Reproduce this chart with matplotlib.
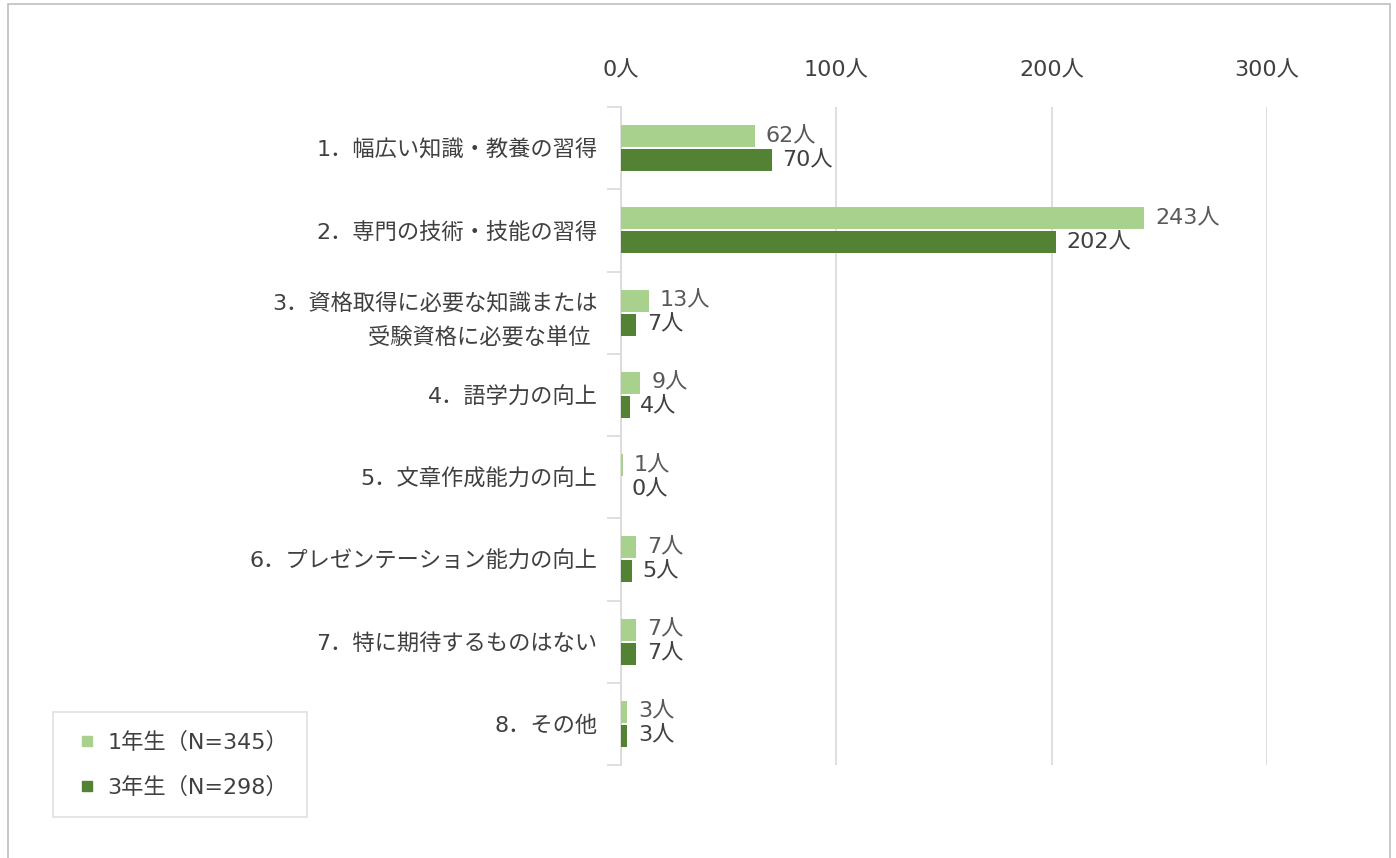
import numpy as np
import matplotlib
matplotlib.use("Agg")
import matplotlib.pyplot as plt
from matplotlib.patches import Rectangle
from matplotlib.lines import Line2D

plt.rcParams['font.family'] = ['DejaVu Sans', 'Noto Sans CJK JP']

categories = [
    "1．幅広い知識・教養の習得",
    "2．専門の技術・技能の習得",
    "3．資格取得に必要な知識または\n受験資格に必要な単位 ",
    "4．語学力の向上",
    "5．文章作成能力の向上",
    "6．プレゼンテーション能力の向上",
    "7．特に期待するものはない",
    "8．その他",
]
year1 = [62, 243, 13, 9, 1, 7, 7, 3]
year3 = [70, 202, 7, 4, 0, 5, 7, 3]
legend_labels = ["1年生（N=345）", "3年生（N=298）"]
xticks = [0, 100, 200, 300]

c_light = "#A9D18E"
c_dark = "#548235"
txt = "#404040"
fs = 16

fig = plt.figure(figsize=(13.96, 8.58), dpi=100)
fig.patches.append(Rectangle((8 / 1396, -0.01), (1390 - 8) / 1396, 1 - 4 / 858 + 0.01,
                             transform=fig.transFigure, fill=False,
                             edgecolor="#BFBFBF", linewidth=1.2))

ax = fig.add_axes([621 / 1396, 1 - 765 / 858, (1267 - 621) / 1396, (765 - 107) / 858])

y = np.arange(len(categories))
h = 0.27
off = 0.146
ax.barh(y - off, year1, height=h, color=c_light, zorder=3)
ax.barh(y + off, year3, height=h, color=c_dark, zorder=3)

for i in range(len(categories)):
    ax.text(year1[i] + 5, y[i] - off, "%d人" % year1[i], va="center", ha="left",
            fontsize=fs, color="#595959")
    ax.text(year3[i] + 5, y[i] + off, "%d人" % year3[i], va="center", ha="left",
            fontsize=fs, color=txt)

ax.set_xlim(0, 300)
ax.set_ylim(len(categories) - 0.5, -0.5)
ax.xaxis.tick_top()
ax.set_xticks(xticks)
ax.set_xticklabels(["%d人" % v for v in xticks], fontsize=fs, color=txt)
ax.tick_params(axis="x", length=0, pad=19)
ax.grid(axis="x", color="#D9D9D9", linewidth=1.2, zorder=0)

ax.set_yticks(y)
ax.set_yticklabels(categories, fontsize=fs, color=txt, ha="right", linespacing=1.75)
ax.tick_params(axis="y", length=0, pad=17)
ax.set_yticks(np.arange(-0.5, len(categories) + 0.5, 1), minor=True)
ax.tick_params(axis="y", which="minor", length=10, color="#D9D9D9", width=1.2)

for side in ["top", "right", "bottom"]:
    ax.spines[side].set_visible(False)
ax.spines["left"].set_color("#D9D9D9")
ax.spines["left"].set_linewidth(1.2)

handles = [Line2D([], [], linestyle="none", marker="s", markersize=7,
                  markerfacecolor=c, markeredgecolor=c) for c in (c_light, c_dark)]
leg = fig.legend(handles, legend_labels, loc="lower left",
                 bbox_to_anchor=(53 / 1396, 1 - 817 / 858),
                 fontsize=fs, frameon=True, fancybox=False, edgecolor="#D9D9D9",
                 handlelength=1.4, labelspacing=1.1,
                 borderpad=0.85, handletextpad=0.2, borderaxespad=0)
for t in leg.get_texts():
    t.set_color(txt)
leg.get_frame().set_linewidth(1.2)

fig.savefig("out.png", dpi=100)
